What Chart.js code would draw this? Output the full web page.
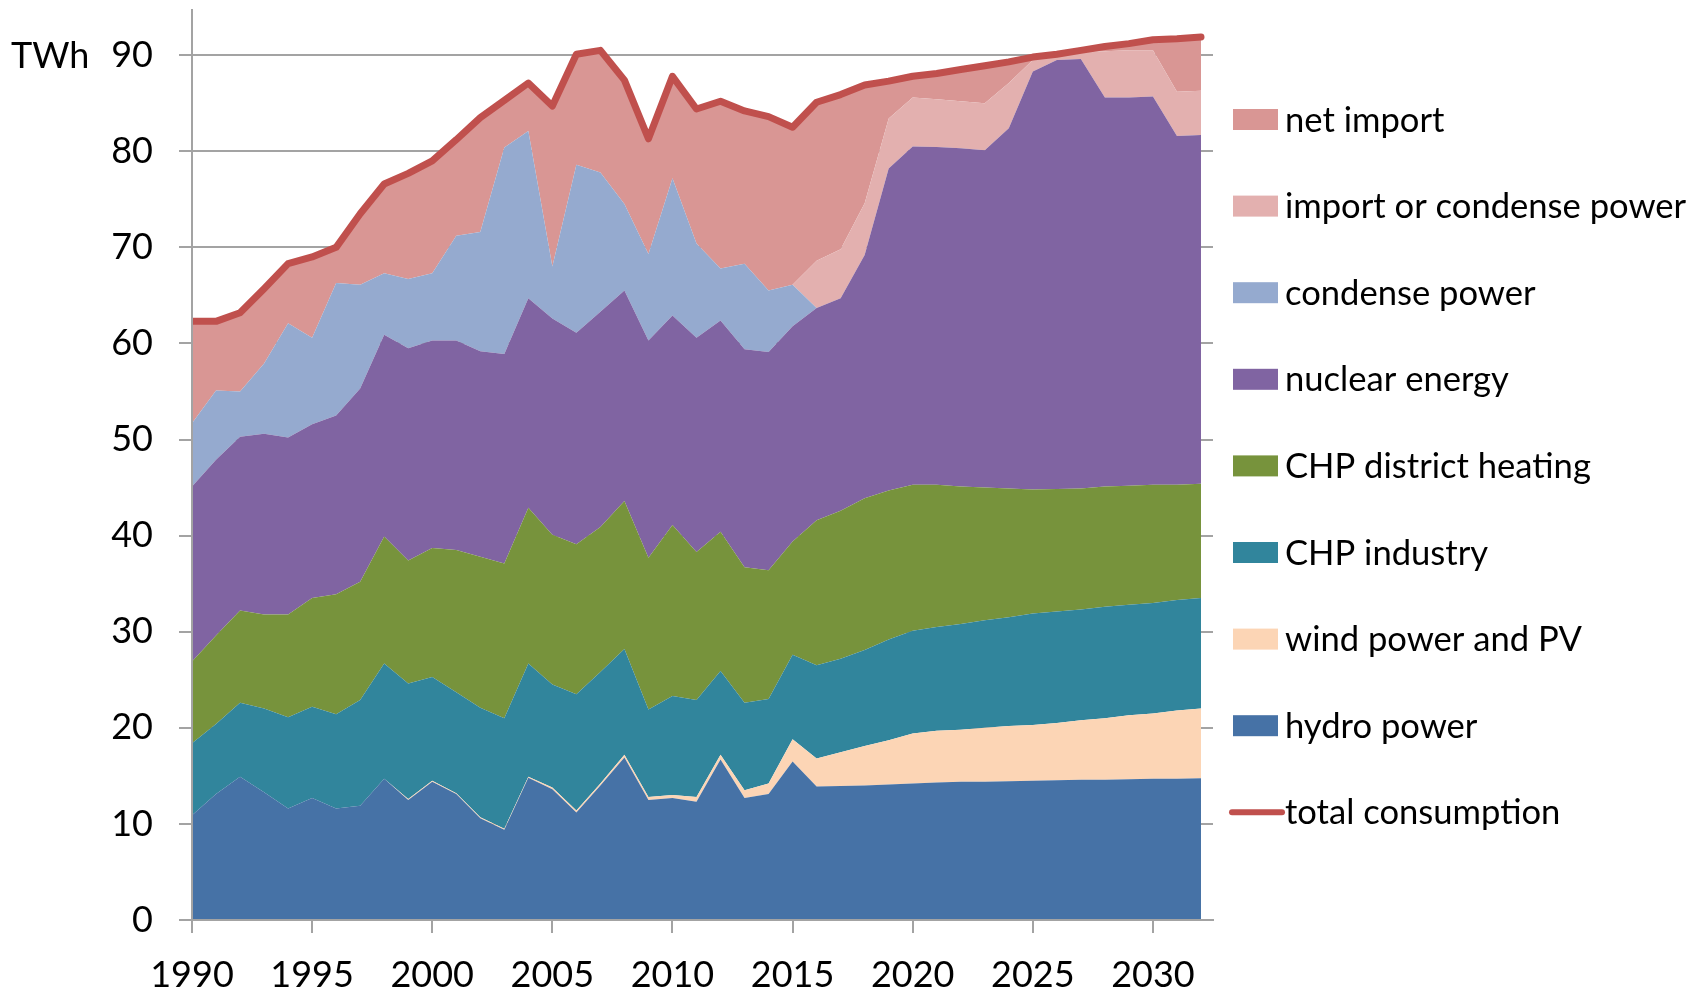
<!DOCTYPE html>
<html>
<head>
<meta charset="utf-8">
<script src="https://cdn.jsdelivr.net/npm/chart.js@4.4.1/dist/chart.umd.min.js"></script>
<style>
html,body{margin:0;padding:0;background:#fff;overflow:hidden}
#wrap{width:1704px;height:993px;position:relative}
</style>
</head>
<body>
<div id="wrap"><canvas id="c"></canvas></div>
<script>
const years = [1990,1991,1992,1993,1994,1995,1996,1997,1998,1999,
               2000,2001,2002,2003,2004,2005,2006,2007,2008,2009,
               2010,2011,2012,2013,2014,2015,2016,2017,2018,2019,
               2020,2021,2022,2023,2024,2025,2026,2027,2028,2029,
               2030,2031,2032];
const xTicks = [1990,1995,2000,2005,2010,2015,2020,2025,2030];
const yTicks = [0,10,20,30,40,50,60,70,80,90];
const unitLabel = 'TWh';

const hydro = [10.9,13.1,14.9,13.3,11.6,12.7,11.6,11.9,14.7,12.5,
               14.4,13.1,10.6,9.4,14.8,13.6,11.2,14.0,16.9,12.5,
               12.7,12.3,16.7,12.7,13.1,16.5,13.9,13.95,14.0,14.1,
               14.2,14.3,14.4,14.4,14.45,14.5,14.55,14.6,14.6,14.65,
               14.7,14.7,14.75];
const windPV = [0,0,0,0,0,0,0,0,0,0.1,
                0.1,0.1,0.1,0.1,0.1,0.2,0.2,0.2,0.3,0.3,
                0.3,0.5,0.5,0.8,1.1,2.3,2.9,3.5,4.1,4.6,
                5.2,5.4,5.4,5.6,5.75,5.8,5.95,6.2,6.4,6.65,
                6.8,7.1,7.25];
const chpIndustry = [7.5,7.3,7.7,8.7,9.5,9.5,9.8,11.0,12.0,12.0,
                     10.8,10.5,11.4,11.5,11.8,10.7,12.1,11.6,11.0,9.1,
                     10.3,10.1,8.7,9.1,8.8,8.8,9.7,9.75,10.0,10.5,
                     10.7,10.8,11.0,11.2,11.3,11.6,11.6,11.5,11.6,11.5,
                     11.5,11.5,11.5];
const chpDistrict = [8.5,9.2,9.6,9.8,10.7,11.3,12.5,12.3,13.2,12.8,
                     13.4,14.8,15.7,16.1,16.2,15.6,15.6,15.1,15.4,15.8,
                     17.8,15.4,14.5,14.1,13.4,11.8,15.1,15.4,15.8,15.5,
                     15.2,14.8,14.3,13.8,13.4,12.9,12.75,12.6,12.5,12.4,
                     12.3,12.0,11.9];
const nuclear = [18.2,18.3,18.1,18.8,18.4,18.1,18.6,20.1,21.0,22.1,
                 21.6,21.8,21.4,21.8,21.8,22.5,22.0,22.4,21.9,22.6,
                 21.8,22.3,22.0,22.7,22.7,22.4,22.1,22.1,25.3,33.5,
                 35.2,35.15,35.2,35.1,37.5,43.5,44.65,44.7,40.5,40.4,
                 40.4,36.3,36.3];
const condense = [6.6,7.2,4.7,7.3,11.9,9.0,13.8,10.8,6.4,7.2,
                  7.0,10.9,12.4,21.5,17.4,5.4,17.5,14.5,9.0,9.0,
                  14.3,9.8,5.4,8.9,6.4,4.3,0,0,0,0,
                  0,0,0,0,0,0,0,0,0,0,
                  0,0,0];
const importOrCondense = [0,0,0,0,0,0,0,0,0,0,
                          0,0,0,0,0,0,0,0,0,0,
                          0,0,0,0,0,0,4.9,5.1,5.4,5.2,
                          5.1,4.95,4.9,4.9,4.7,1.2,0.5,0.7,4.8,4.9,
                          4.8,4.6,4.6];
const netImport = [10.6,7.2,8.2,7.8,6.2,8.4,3.7,7.4,9.3,11.0,
                   11.7,10.0,11.9,4.9,5.0,16.7,11.5,12.7,12.9,12.0,
                   10.6,14.0,17.4,15.9,18.1,16.4,16.5,16.1,12.3,3.9,
                   2.2,2.7,3.3,3.9,2.2,0.3,0.1,0.2,0.5,0.7,
                   1.1,5.5,5.6];
const totalConsumption = [62.3,62.3,63.2,65.7,68.3,69.0,70.0,73.5,76.6,77.7,
                          79.0,81.2,83.5,85.3,87.1,84.7,90.1,90.5,87.4,81.3,
                          87.8,84.4,85.2,84.2,83.6,82.5,85.1,85.9,86.9,87.3,
                          87.8,88.1,88.5,88.9,89.3,89.8,90.1,90.5,90.9,91.2,
                          91.6,91.7,91.9];

const seriesNames = ['hydro power','wind power and PV','CHP industry','CHP district heating',
                     'nuclear energy','condense power','import or condense power','net import'];
const seriesValues = [hydro, windPV, chpIndustry, chpDistrict, nuclear, condense, importOrCondense, netImport];
const seriesColors = ['#4672A6','#FCD5B5','#31859C','#77933C','#8064A2','#95AACF','#E3B0AF','#D99694'];
const totalName = 'total consumption';
const totalColor = '#C0504D';

const FONT = 'Lato, "Open Sans", sans-serif';
const gridColor = '#a3a3a3';

const datasets = seriesValues.map((vals, i) => ({
  label: seriesNames[i],
  data: vals,
  backgroundColor: seriesColors[i],
  borderColor: seriesColors[i],
  borderWidth: 0,
  pointRadius: 0,
  pointHoverRadius: 0,
  tension: 0,
  fill: i === 0 ? 'origin' : '-1',
  stack: 'energy',
  order: 0
}));
datasets.push({
  label: totalName,
  data: totalConsumption,
  borderColor: totalColor,
  backgroundColor: totalColor,
  borderWidth: 7,
  borderCapStyle: 'round',
  borderJoinStyle: 'round',
  pointRadius: 0,
  pointHoverRadius: 0,
  tension: 0,
  fill: false,
  stack: 'total',
  order: -1
});

const sideLegend = {
  id: 'sideLegend',
  afterDraw(chart) {
    const ctx = chart.ctx;
    const area = chart.chartArea;
    const ds = chart.data.datasets;
    const items = [];
    for (let i = seriesNames.length - 1; i >= 0; i--) items.push(ds[i]);
    items.push(ds[ds.length - 1]);
    const boxX = area.right + 20;
    const boxW = 45, boxH = 21;
    const textX = boxX + 52;
    const y0 = 119.5, step = 86.6;
    ctx.save();
    ctx.font = '34.6px ' + FONT;
    ctx.textBaseline = 'middle';
    ctx.textAlign = 'left';
    items.forEach((d, k) => {
      const y = y0 + k * step;
      if (d.fill === false) {
        ctx.strokeStyle = d.borderColor;
        ctx.lineWidth = 6;
        ctx.lineCap = 'round';
        ctx.beginPath();
        ctx.moveTo(boxX - 1, y);
        ctx.lineTo(boxX + 49, y);
        ctx.stroke();
      } else {
        ctx.fillStyle = d.backgroundColor;
        ctx.fillRect(boxX, y - boxH / 2, boxW, boxH);
      }
      ctx.fillStyle = '#000';
      ctx.fillText(d.label, textX, y + 1);
    });
    const ys = chart.scales.y;
    ctx.font = '36px ' + FONT;
    ctx.fillText(unitLabel, 11, ys.getPixelForValue(yTicks[yTicks.length - 1]) + 1);
    ctx.restore();
  }
};

new Chart(document.getElementById('c'), {
  type: 'line',
  data: { labels: years, datasets },
  options: {
    responsive: true,
    maintainAspectRatio: false,
    animation: false,
    devicePixelRatio: 1,
    layout: { padding: { top: 10, right: 491, bottom: 0, left: 0 } },
    plugins: {
      legend: { display: false },
      tooltip: { enabled: false },
      filler: { propagate: false }
    },
    scales: {
      x: {
        type: 'linear',
        min: years[0],
        max: years[years.length - 1] + 0.5,
        afterBuildTicks: (s) => { s.ticks = xTicks.map(v => ({ value: v })); },
        ticks: {
          autoSkip: false,
          maxRotation: 0,
          padding: 21,
          color: '#000',
          font: { family: FONT, size: 36 },
          callback: (v) => String(v)
        },
        grid: { drawOnChartArea: false, drawTicks: true, tickLength: 13, color: gridColor, lineWidth: 2 },
        border: { display: true, color: gridColor, width: 2, z: 1 },
        afterFit: (s) => { s.height = 73; s.paddingLeft = 0; s.paddingRight = 0; }
      },
      y: {
        stacked: true,
        min: 0,
        max: 94.7,
        afterBuildTicks: (s) => { s.ticks = yTicks.map(v => ({ value: v })); },
        ticks: {
          padding: 26,
          color: '#000',
          font: { family: FONT, size: 36 }
        },
        grid: { drawTicks: true, tickLength: 13, color: gridColor, lineWidth: 2 },
        border: { display: true, color: gridColor, width: 2, z: 1 },
        afterFit: (s) => { s.width = 192; s.paddingTop = 0; s.paddingBottom = 0; }
      }
    }
  },
  plugins: [sideLegend]
});
</script>
</body>
</html>
